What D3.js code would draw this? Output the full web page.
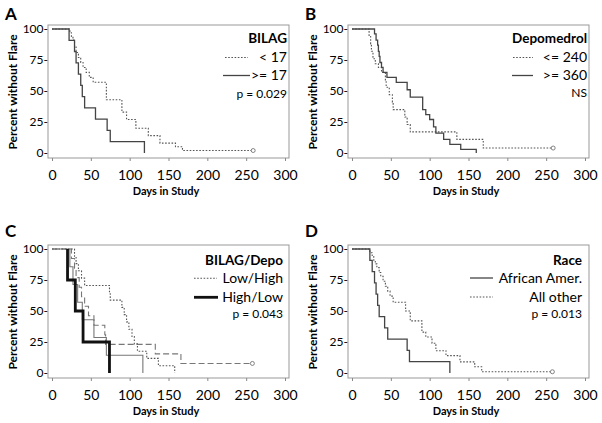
<!DOCTYPE html>
<html>
<head>
<meta charset="utf-8">
<script src="https://cdn.jsdelivr.net/npm/d3@7"></script>
<style>
  body { margin: 0; background: #fff; }
  svg { display: block; font-family: Lato, 'Noto Sans', sans-serif; }
</style>
</head>
<body>
<svg id="chart"></svg>
<script>
const xTicks = [0, 50, 100, 150, 200, 250, 300];
const yTicks = [0, 25, 50, 75, 100];

// [day, percent without flare] step points
// A: BILAG
const bilagLow = [[0,100],[23,97],[25,94],[27,91],[29,86],[31,81],[34,77],[37,73],[40,69],[44,65],[48,61],[53,57],[70,43],[90,33],[96,27],[108,20],[124,14],[139,8],[159,5],[168,2],[259,2]];
const bilagHigh = [[0,100],[22,90.9],[29,81.8],[31,72.7],[34,63.6],[37,54.5],[39,45.5],[42,36.4],[56,27.3],[71,18.2],[75,9.1],[119,0]];
// B: Depomedrol
const depoLow = [[0,100],[22,94],[24,88],[25,82],[27,76],[30,72],[34,69],[38,65],[43,59],[44,53],[48,47],[52,41],[53,35],[68,29],[71,23],[75,17],[135,11],[169,4],[259,4]];
const depoHigh = [[0,100],[29,96],[31,91],[33,87],[34,82],[35,78],[36,73],[38,69],[40,65],[45,61],[57,57],[71,51],[75,45],[91,35],[95,31],[100,27],[105,21],[108,16],[118,11],[126,7],[140,3],[160,0]];
// C: BILAG/Depo
const lowHigh = [[0,100],[29,94.1],[31,88.2],[34,82.4],[38,76.5],[42,70.6],[74,64.7],[75,58.8],[90,52.9],[93,47.1],[96,41.2],[99,35.3],[103,29.4],[106,23.5],[110,17.6],[122,11.8],[137,5.9],[158,0]];
const highLow = [[0,100],[20,75],[30,50],[40,25],[74,0]];
const highHigh = [[0,100],[23,85.7],[27,71.4],[33,57.1],[39,42.9],[54,28.6],[70,14.3],[117,0]];
const lowLow = [[0,100],[25,92.3],[29,84.6],[31,76.9],[35,69.2],[38,61.5],[42,53.8],[47,46.2],[54,38.5],[68,30.8],[69,23.1],[133,15.4],[166,7.7],[258,7.7]];
// D: Race
const africanAmer = [[0,100],[23,90.9],[26,81.8],[29,72.7],[31,63.6],[33,54.5],[35,45.5],[42,36.4],[46,27.3],[71,18.2],[74,9.1],[126,0]];
const allOther = [[0,100],[23,97],[26,94],[28,91],[30,88],[32,85],[35,81],[37,78],[40,74],[43,70],[46,66],[49,62],[53,57],[69,50],[75,42],[90,33],[95,29],[103,24],[108,18],[121,14],[139,9],[158,5],[167,1],[258,1]];

const styles = {
  dotted: { stroke: '#555', width: 1.1, dash: '1.6,1.6' },
  solid:  { stroke: '#444', width: 1.3, dash: null },
  thick:  { stroke: '#111', width: 2.8, dash: null },
  thin:   { stroke: '#777', width: 1.1, dash: null },
  dashed: { stroke: '#777', width: 1.1, dash: '6,3' }
};

const panels = [
  { ox: 0, oy: 0, tag: 'A', tagY: 20, title: 'BILAG', right: 287, titleY: 42.5, note: 'p = 0.029', noteY: 97.5,
    curves: [{ data: bilagLow, style: 'dotted', censor: true }, { data: bilagHigh, style: 'solid' }],
    legend: [{ label: '< 17', style: 'dotted', x1: 225, x2: 248, ly: 57.5, ty: 61.5 },
             { label: '>= 17', style: 'solid', x1: 223, x2: 250, ly: 75.5, ty: 80 }] },
  { ox: 300, oy: 0, tag: 'B', tagY: 20, title: 'Depomedrol', right: 287, titleY: 42.5, note: 'NS', noteY: 97,
    curves: [{ data: depoLow, style: 'dotted', censor: true }, { data: depoHigh, style: 'solid' }],
    legend: [{ label: '<= 240', style: 'dotted', x1: 213, x2: 233, ly: 57.5, ty: 61.5 },
             { label: '>= 360', style: 'solid', x1: 212, x2: 233, ly: 75.5, ty: 80 }] },
  { ox: 0, oy: 220, tag: 'C', tagY: 17, title: 'BILAG/Depo', right: 283, titleY: 44.5, note: 'p = 0.043', noteY: 98,
    curves: [{ data: lowLow, style: 'dashed', censor: true }, { data: highHigh, style: 'thin' },
             { data: lowHigh, style: 'dotted' }, { data: highLow, style: 'thick', skipTop: true }],
    legend: [{ label: 'Low/High', style: 'dotted', x1: 194, x2: 217, ly: 58.3, ty: 63 },
             { label: 'High/Low', style: 'thick', x1: 194, x2: 218, ly: 77.3, ty: 82 }] },
  { ox: 300, oy: 220, tag: 'D', tagY: 17, title: 'Race', right: 282, titleY: 44.5, note: 'p = 0.013', noteY: 98,
    curves: [{ data: allOther, style: 'dotted', censor: true }, { data: africanAmer, style: 'solid' }],
    legend: [{ label: 'African Amer.', style: 'solid', x1: 170, x2: 193, ly: 58, ty: 63 },
             { label: 'All other', style: 'dotted', x1: 170, x2: 193, ly: 77, ty: 82 }] }
];

const svg = d3.select('#chart').attr('width', 602).attr('height', 423);
svg.append('rect').attr('width', 602).attr('height', 423).attr('fill', '#fff');

const frame = { left: 48, right: 289, top: 25, bottom: 158 };
const x = d3.scaleLinear().domain([0, 300]).range([52, 285]);
const y = d3.scaleLinear().domain([0, 100]).range([153, 29]);

const line = d3.line()
  .x(d => x(d[0]))
  .y(d => y(d[1]))
  .curve(d3.curveStepAfter);

function applyStyle(sel, name) {
  const s = styles[name];
  sel.attr('fill', 'none')
    .attr('stroke', s.stroke)
    .attr('stroke-width', s.width)
    .attr('stroke-dasharray', s.dash);
  return sel;
}

panels.forEach(p => {
  const g = svg.append('g').attr('transform', 'translate(' + p.ox + ',' + p.oy + ')');

  g.append('text')
    .attr('x', 5).attr('y', p.tagY)
    .style('font-size', '17px').style('font-weight', 'bold')
    .text(p.tag);

  // frame
  g.append('rect')
    .attr('x', frame.left).attr('y', frame.top)
    .attr('width', frame.right - frame.left).attr('height', frame.bottom - frame.top)
    .attr('fill', 'none').attr('stroke', '#999').attr('stroke-width', 1);

  const yAxis = g.append('g')
    .attr('transform', 'translate(' + frame.left + ',0)')
    .call(d3.axisLeft(y).tickValues(yTicks).tickSize(0).tickPadding(0).tickFormat(d => d + '-'));
  yAxis.select('.domain').remove();
  yAxis.selectAll('text').style('font-size', '12px').attr('fill', '#000')
    .style('font-family', 'Lato, sans-serif');

  const xAxis = g.append('g')
    .attr('transform', 'translate(0,' + frame.bottom + ')')
    .call(d3.axisBottom(x).tickValues(xTicks).tickSize(3).tickPadding(9));
  xAxis.select('.domain').remove();
  xAxis.selectAll('line').attr('stroke', '#888');
  xAxis.selectAll('text').style('font-size', '14px').attr('fill', '#000')
    .style('font-family', 'Lato, sans-serif');

  g.append('text')
    .attr('transform', 'translate(16.5,92) rotate(-90)')
    .style('text-anchor', 'middle')
    .style('font-size', '12px').style('font-weight', 'bold')
    .text('Percent without Flare');

  g.append('text')
    .attr('x', 166).attr('y', 195)
    .style('text-anchor', 'middle')
    .style('font-size', '11px').style('font-weight', 'bold')
    .text('Days in Study');

  p.curves.forEach(c => {
    let pts = c.data;
    if (c.skipTop) pts = [[pts[1][0], 100]].concat(pts.slice(1));
    applyStyle(g.append('path').attr('d', line(pts)), c.style);
    if (c.censor) {
      const last = c.data[c.data.length - 1];
      g.append('circle')
        .attr('cx', x(last[0])).attr('cy', y(last[1])).attr('r', 2)
        .attr('fill', '#fff').attr('stroke', '#666').attr('stroke-width', 0.8);
    }
  });

  // legend
  g.append('text')
    .attr('x', p.right).attr('y', p.titleY)
    .style('text-anchor', 'end').style('font-size', '13.5px').style('font-weight', 'bold')
    .text(p.title);
  p.legend.forEach(l => {
    applyStyle(g.append('line')
      .attr('x1', l.x1).attr('x2', l.x2).attr('y1', l.ly).attr('y2', l.ly), l.style);
    g.append('text')
      .attr('x', p.right).attr('y', l.ty)
      .style('text-anchor', 'end').style('font-size', '14px')
      .text(l.label);
  });
  g.append('text')
    .attr('x', p.right).attr('y', p.noteY)
    .style('text-anchor', 'end').style('font-size', '12px')
    .text(p.note);
});
</script>
</body>
</html>
